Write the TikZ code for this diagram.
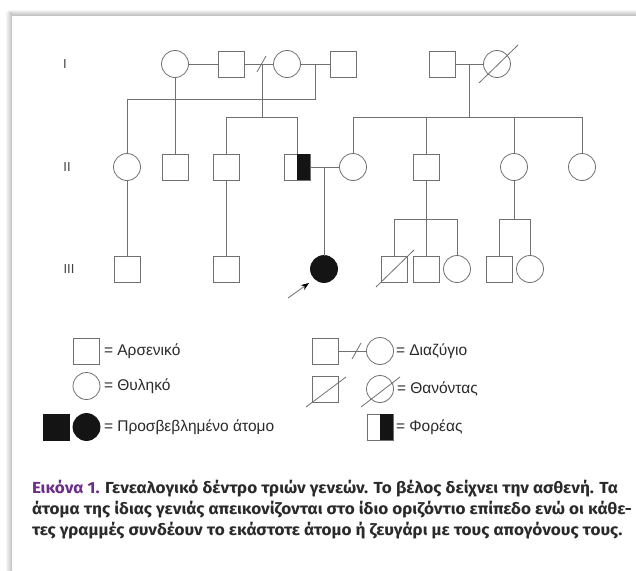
\documentclass[tikz,border=0pt]{standalone}
\usepackage{fontspec}
\usetikzlibrary{arrows.meta,calc}
\setmainfont{Liberation Sans}
\newfontfamily\capfont{Fira Sans}[FakeStretch=1.07]
\newfontfamily\legfont{Liberation Sans}
\definecolor{lc}{HTML}{707070}
\definecolor{txt}{HTML}{2A2A2A}
\definecolor{purp}{HTML}{6B2D87}
\begin{document}
\begin{tikzpicture}[x=1pt,y=-1pt,
  every node/.style={inner sep=0pt, outer sep=0pt},
  male/.style={draw=lc, line width=0.8pt, rectangle, minimum width=26pt, minimum height=26pt, fill=white},
  female/.style={draw=lc, line width=0.8pt, circle, minimum size=27pt, fill=white},
  aff/.style={fill=black!92, draw=black!92},
  conn/.style={draw=lc, line width=0.8pt},
  gen/.style={font=\legfont\fontsize{13}{13}\selectfont, text=black!75},
  leg/.style={font=\legfont\fontsize{15.5}{15.5}\selectfont, text=txt, anchor=west},
  capline/.style={font=\capfont\bfseries\fontsize{16}{16}\selectfont, text=txt, anchor=base west}
]
\useasboundingbox (0,0) rectangle (636,570);
% frame
\fill[white] (0,0) rectangle (636,570);
\shade[top color=white, bottom color=black!28] (8,9) rectangle (636,16);
\shade[left color=white, right color=black!25] (5,12) rectangle (12,570);
\fill[white] (12,16) rectangle (636,570);

% generation labels
\node[gen] (gI) at (65,64) {I};
\node[gen] (gII) at (67,167) {II};
\node[gen] (gIII) at (69,269) {III};

% generation I
\node[female] (A) at (175,64) {};
\node[male] (B) at (231,64) {};
\node[female] (C) at (287,64) {};
\node[male] (D) at (343,64) {};
\node[male] (E) at (442,64) {};
\node[female] (F) at (497,64) {};
\draw[conn] ($(F.center)+(-18,19)$) -- ($(F.center)+(21,-19)$);

% generation II
\node[female] (ii1) at (127,167) {};
\node[male] (ii2) at (175,167) {};
\node[male] (ii3) at (226,167) {};
\node[male] (ii4) at (297,167) {};
\fill[black!92] (ii4.north) rectangle (ii4.south east);
\node[female] (ii5) at (353,167) {};
\node[male] (ii6) at (426,167) {};
\node[female] (ii7) at (514,167) {};
\node[female] (ii8) at (582,167) {};

% generation III
\node[male] (iii1) at (127,269) {};
\node[male] (iii2) at (226,269) {};
\node[female, aff] (iii3) at (324,269) {};
\node[male] (iii4) at (394,269) {};
\draw[conn] ($(iii4.center)+(-18,18)$) -- ($(iii4.center)+(20,-19)$);
\node[male] (iii5) at (426,269) {};
\node[female] (iii6) at (457,269) {};
\node[male] (iii7) at (499,269) {};
\node[female] (iii8) at (530,269) {};

% junction coordinates
\coordinate (bc) at (262,64);
\coordinate (bcd) at (262,117);
\coordinate (s2l) at (226,117);
\coordinate (s2r) at (297,117);
\coordinate (cd) at (315,64);
\coordinate (cdd) at (315,99);
\coordinate (s1l) at (127,99);
\coordinate (ef) at (469,64);
\coordinate (efd) at (469,117);
\coordinate (s3l) at (353,117);
\coordinate (s3b) at (426,117);
\coordinate (s3c) at (514,117);
\coordinate (s3r) at (582,117);
\coordinate (m) at (324,167);
\coordinate (s4l) at (394,219);
\coordinate (s4m) at (426,219);
\coordinate (s4r) at (457,219);
\coordinate (s5m) at (514,219);
\coordinate (s5l) at (499,219);
\coordinate (s5r) at (530,219);

% couple lines generation I
\draw[conn] (A) -- (B);
\draw[conn] (B) -- (C);
\draw[conn] ($(bc)+(-5,8)$) -- ($(bc)+(4,-8)$);
\draw[conn] (C) -- (D);
\draw[conn] (E) -- (F);
% descent lines
\draw[conn] (cd) -- (cdd) -- (s1l) -- (ii1);
\draw[conn] (A) -- (ii2);
\draw[conn] (bc) -- (bcd);
\draw[conn] (ii3) -- (s2l) -- (s2r) -- (ii4);
\draw[conn] (ef) -- (efd);
\draw[conn] (ii5) -- (s3l) -- (s3r) -- (ii8);
\draw[conn] (s3b) -- (ii6);
\draw[conn] (s3c) -- (ii7);
% generation II couple
\draw[conn] (ii4) -- (ii5);
\draw[conn] (m) -- (iii3);
\draw[conn] (ii1) -- (iii1);
\draw[conn] (ii3) -- (iii2);
\draw[conn] (ii6) -- (iii5);
\draw[conn] (iii4) -- (s4l) -- (s4r) -- (iii6);
\draw[conn] (ii7) -- (s5m);
\draw[conn] (iii7) -- (s5l) -- (s5r) -- (iii8);

% proband arrow
\coordinate (arS) at (288,298);
\coordinate (arE) at (309,283);
\draw[conn, arrows={-Stealth[length=8pt,width=6pt,black]}] (arS) -- (arE);

% legend
\node[male] (L1) at (86.5,351) {};
\node[leg] (t1) at (104,351) {= Αρσενικό};
\node[female] (L2) at (86.5,386) {};
\node[leg] (t2) at (104,386) {= Θυληκό};
\node[male, aff] (L3a) at (56,427) {};
\node[female, aff] (L3b) at (86.5,427) {};
\node[leg] (t3) at (104,427) {= Προσβεβλημένο άτομο};

\node[male] (L4) at (325,351) {};
\node[female] (L5) at (380,351) {};
\coordinate (L45) at (357,351);
\draw[conn] (L4) -- (L5);
\draw[conn] ($(L45)+(-5,8)$) -- ($(L45)+(4,-8)$);
\node[leg] (t4) at (396,351) {= Διαζύγιο};

\node[male] (L6) at (325,389) {};
\draw[conn] ($(L6.center)+(-19,18)$) -- ($(L6.center)+(21,-12)$);
\node[female] (L7) at (380,389) {};
\draw[conn] ($(L7.center)+(-19,18)$) -- ($(L7.center)+(20,-12)$);
\node[leg] (t5) at (397,389) {= Θανόντας};

\node[male] (L8) at (380,427) {};
\fill[black!92] (L8.north) rectangle (L8.south east);
\node[leg] (t6) at (396,427) {= Φορέας};

% caption
\node[capline] (c1) at (32,493) {{\color{purp}Εικόνα 1.} Γενεαλογικό δέντρο τριών γενεών. Το βέλος δείχνει την ασθενή. Τα};
\node[capline] (c2) at (32,514) {άτομα της ίδιας γενιάς απεικονίζονται στο ίδιο οριζόντιο επίπεδο ενώ οι κάθε-};
\node[capline] (c3) at (32,535) {τες γραμμές συνδέουν το εκάστοτε άτομο ή ζευγάρι με τους απογόνους τους.};
\end{tikzpicture}
\end{document}
